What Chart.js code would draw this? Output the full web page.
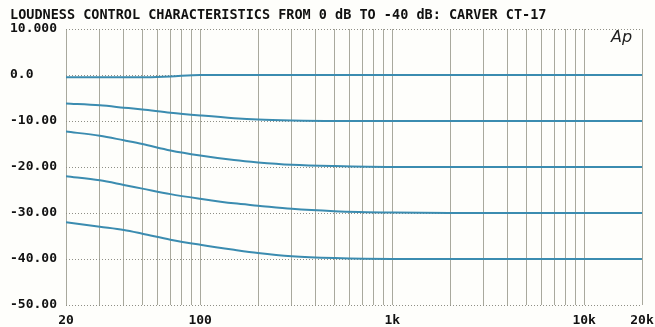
<!DOCTYPE html>
<html>
<head>
<meta charset="utf-8">
<script src="https://cdn.jsdelivr.net/npm/chart.js@4/dist/chart.umd.min.js"></script>
<style>
html,body{margin:0;padding:0;background:#fefefb;}
canvas{display:block;}
</style>
</head>
<body>
<canvas id="c" width="655" height="327"></canvas>
<script>
const titleText = 'LOUDNESS CONTROL CHARACTERISTICS FROM 0 dB TO -40 dB: CARVER CT-17';
const freqs = [20, 30, 40, 50, 70, 100, 150, 200, 300, 500, 1000, 2000, 5000, 10000, 20000];
const curve0  = [-0.5, -0.5, -0.5, -0.5, -0.3, 0, 0, 0, 0, 0, 0, 0, 0, 0, 0];
const curve10 = [-6.2, -6.6, -7.1, -7.5, -8.2, -8.8, -9.4, -9.7, -9.9, -10, -10, -10, -10, -10, -10];
const curve20 = [-12.3, -13.2, -14.2, -15, -16.4, -17.5, -18.5, -19, -19.5, -19.8, -20, -20, -20, -20, -20];
const curve30 = [-22, -22.9, -23.9, -24.7, -25.9, -26.9, -27.9, -28.4, -29.1, -29.6, -29.9, -30, -30, -30, -30];
const curve40 = [-32, -33, -33.7, -34.5, -35.8, -36.9, -38, -38.7, -39.4, -39.8, -40, -40, -40, -40, -40];
const gridFreqs = [20,30,40,50,60,70,80,90,100,200,300,400,500,600,700,800,900,1000,2000,3000,4000,5000,6000,7000,8000,9000,10000,20000];
const xTickValues = [20, 100, 1000, 10000, 20000];
const xTickLabels = ['20', '100', '1k', '10k', '20k'];
const yTickValues = [10, 0, -10, -20, -30, -40, -50];
const yTickLabels = ['10.000', '0.0', '-10.00', '-20.00', '-30.00', '-40.00', '-50.00'];

const lineColor = '#3b8cb0';
const mk = (arr) => ({
  data: freqs.map((f, i) => ({x: f, y: arr[i]})),
  borderColor: lineColor,
  borderWidth: 2,
  pointRadius: 0,
  fill: false,
  cubicInterpolationMode: 'monotone'
});

const labelFont = {family: '"DejaVu Sans Mono", "Liberation Mono", monospace', size: 13, weight: 'bold'};

const decor = {
  id: 'decor',
  beforeDraw(chart) {
    const ctx = chart.ctx;
    ctx.save();
    ctx.fillStyle = '#fefefb';
    ctx.fillRect(0, 0, chart.width, chart.height);
    ctx.restore();
  },
  afterDraw(chart) {
    const ctx = chart.ctx;
    const a = chart.chartArea;
    ctx.save();
    ctx.fillStyle = '#111';
    ctx.font = 'bold 13.5px "DejaVu Sans Mono", "Liberation Mono", monospace';
    ctx.textBaseline = 'middle';
    ctx.textAlign = 'left';
    ctx.fillText(titleText, 10, 15);
    ctx.font = 'italic 16px "DejaVu Sans", sans-serif';
    ctx.fillStyle = '#222';
    ctx.fillText('Ap', a.right - 31, a.top + 9);
    ctx.restore();
  }
};

new Chart(document.getElementById('c'), {
  type: 'line',
  data: {datasets: [mk(curve0), mk(curve10), mk(curve20), mk(curve30), mk(curve40)]},
  options: {
    responsive: false,
    animation: false,
    events: [],
    layout: {padding: {left: 10, right: 13, top: 29, bottom: 0}},
    plugins: {legend: {display: false}, title: {display: false}, tooltip: {enabled: false}},
    scales: {
      x: {
        type: 'logarithmic',
        min: 20, max: 20000,
        afterBuildTicks: (s) => { s.ticks = gridFreqs.map(v => ({value: v})); },
        afterFit: (s) => { s.height = 22; s.paddingLeft = 0; s.paddingRight = 0; },
        ticks: {
          autoSkip: false, maxRotation: 0, minRotation: 0,
          color: '#111', font: labelFont, padding: 8,
          callback: (v) => { const i = xTickValues.indexOf(v); return i >= 0 ? xTickLabels[i] : ''; }
        },
        grid: {color: '#a9a99d', lineWidth: 1, drawTicks: false},
        border: {display: false}
      },
      y: {
        type: 'linear',
        min: -50, max: 10,
        afterBuildTicks: (s) => { s.ticks = yTickValues.map(v => ({value: v})); },
        afterFit: (s) => { s.width = 56; s.paddingTop = 0; s.paddingBottom = 0; },
        ticks: {
          color: '#111', font: labelFont, crossAlign: 'far', padding: 4,
          callback: (v) => { const i = yTickValues.indexOf(v); return i >= 0 ? yTickLabels[i] : ''; }
        },
        grid: {color: '#8f8f86', lineWidth: 1, drawTicks: false},
        border: {display: false, dash: [1, 2]}
      }
    }
  },
  plugins: [decor]
});
</script>
</body>
</html>
